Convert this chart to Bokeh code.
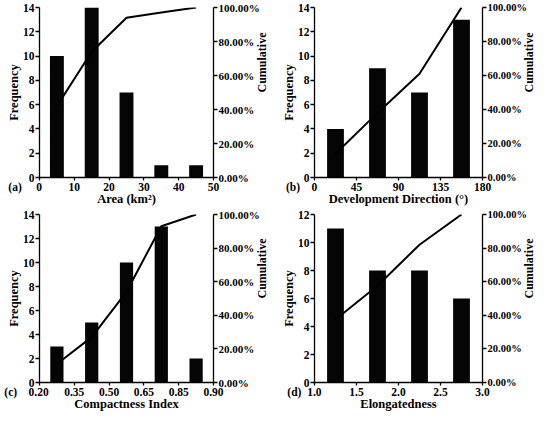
from math import pi
from bokeh.plotting import figure
from bokeh.models import Range1d, LinearAxis, FixedTicker, NumeralTickFormatter
from bokeh.layouts import column, row
from bokeh.embed import file_html
from bokeh.resources import INLINE

FONT = "Liberation Serif"
NB = "\u00a0"

# ---- data ----
# (a) Area
area_centers = [5, 15, 25, 35, 45]
area_freq = [10, 14, 7, 1, 1]
area_cum = [0.42, 0.74, 0.94, 0.97, 1.00]
area_ticks = [0, 10, 20, 30, 40, 50]

# (b) Development direction
dir_centers = [22.5, 67.5, 112.5, 157.5]
dir_freq = [4, 9, 7, 13]
dir_cum = [0.14, 0.38, 0.61, 1.00]
dir_ticks = [0, 45, 90, 135, 180]

# (c) Compactness index (category bins)
comp_tick_labels = ["0.20", "0.35", "0.50", "0.65", "0.85", "0.90"]
comp_freq = [3, 5, 10, 13, 2]
comp_cum = [0.11, 0.27, 0.54, 0.93, 1.00]

# (d) Elongatedness
elong_centers = [1.25, 1.75, 2.25, 2.75]
elong_freq = [11, 8, 8, 6]
elong_cum = [0.375, 0.576, 0.82, 1.00]
elong_ticks = [1.0, 1.5, 2.0, 2.5, 3.0]

cum_ticks = [0, 0.2, 0.4, 0.6, 0.8, 1.0]


def style_axis(ax, tick_out=4, size="11.5px"):
    ax.axis_line_color = "black"
    ax.axis_line_width = 1.3
    ax.major_tick_line_color = "black"
    ax.major_tick_line_width = 1.3
    ax.major_tick_in = 0
    ax.major_tick_out = tick_out
    ax.minor_tick_line_color = None
    ax.major_label_text_font = FONT
    ax.major_label_text_font_style = "bold"
    ax.major_label_text_font_size = size
    ax.major_label_text_color = "black"
    ax.major_label_standoff = 1
    ax.axis_label_text_font = FONT
    ax.axis_label_text_font_style = "bold"
    ax.axis_label_text_font_size = "12.5px"
    ax.axis_label_text_color = "black"
    ax.axis_label_standoff = -1


def panel(xs, freq, cum, xr, xticks, xlabels, bar_w, ymax, xtitle, width, height,
          mbl, mbr, mbt, mbb, rsize="11px"):
    p = figure(width=width, height=height, output_backend="svg", toolbar_location=None,
               x_range=Range1d(*xr), y_range=Range1d(0, ymax),
               min_border_left=mbl, min_border_right=mbr,
               min_border_top=mbt, min_border_bottom=mbb)
    p.outline_line_color = None
    p.xgrid.visible = False
    p.ygrid.visible = False
    p.background_fill_color = "white"
    p.border_fill_color = "white"
    p.extra_y_ranges = {"cum": Range1d(0, 1)}

    p.vbar(x=xs, top=freq, width=bar_w, bottom=0, fill_color="#050505", line_color=None)
    p.line(x=xs, y=cum, y_range_name="cum", line_color="black", line_width=2)

    xa = p.xaxis[0]
    xa.ticker = FixedTicker(ticks=xticks)
    xa.major_label_overrides = dict(zip(xticks, xlabels))
    style_axis(xa, tick_out=3)
    xa.major_label_standoff = 0
    xa.axis_label_standoff = -4
    xa.axis_label = xtitle

    ya = p.yaxis[0]
    ya.ticker = FixedTicker(ticks=list(range(0, ymax + 1, 2)))
    style_axis(ya)
    ya.axis_label = "Frequency"

    ra = LinearAxis(y_range_name="cum", ticker=FixedTicker(ticks=cum_ticks),
                    formatter=NumeralTickFormatter(format="0.00%"))
    style_axis(ra, size=rsize)
    ra.axis_label = "Cumulative"
    ra.axis_label_text_font_size = "12px"
    if "axis_label_orientation" in ra.properties():
        ra.axis_label_orientation = pi / 2
    else:
        ra.axis_label_text_color = "red"
    p.add_layout(ra, "right")
    return p


def tagged(tag, first, left_pad, right_pad):
    # panel tag written left of the first x tick label
    return tag + NB * left_pad + first + NB * right_pad


area_labels = [str(t) for t in area_ticks]
area_labels[0] = tagged("(a)", area_labels[0], 5, 10)
dir_labels = [str(t) for t in dir_ticks]
dir_labels[0] = tagged("(b)", dir_labels[0], 4, 9)
comp_labels = list(comp_tick_labels)
comp_labels[0] = tagged("(c)", comp_labels[0], 4, 9)
elong_labels = ["%.1f" % t for t in elong_ticks]
elong_labels[0] = tagged("(d)", elong_labels[0], 2, 7)

WL, WR = 278, 267
HT, HB = 208, 205

pa = panel(area_centers, area_freq, area_cum, (0, 50), area_ticks, area_labels, 4, 14,
           "Area (km²)", WL, HT, 39, 64, 7, 31)
pb = panel(dir_centers, dir_freq, dir_cum, (0, 180), dir_ticks, dir_labels, 18, 14,
           "Development Direction (°)", WR, HT, 32, 61, 7, 31, rsize="10.5px")
comp_x = [i + 0.5 for i in range(len(comp_freq))]
pc = panel(comp_x, comp_freq, comp_cum, (0, 5), list(range(6)), comp_labels, 0.38, 14,
           "Compactness Index", WL, HB, 39, 64, 6, 31)
pd_ = panel(elong_centers, elong_freq, elong_cum, (1, 3), elong_ticks, elong_labels, 0.2, 12,
            "Elongatedness", WR, HB, 32, 61, 6, 31, rsize="10.5px")

layout = column(row(pa, pb), row(pc, pd_))
open("out.html", "w").write(file_html(layout, INLINE))
